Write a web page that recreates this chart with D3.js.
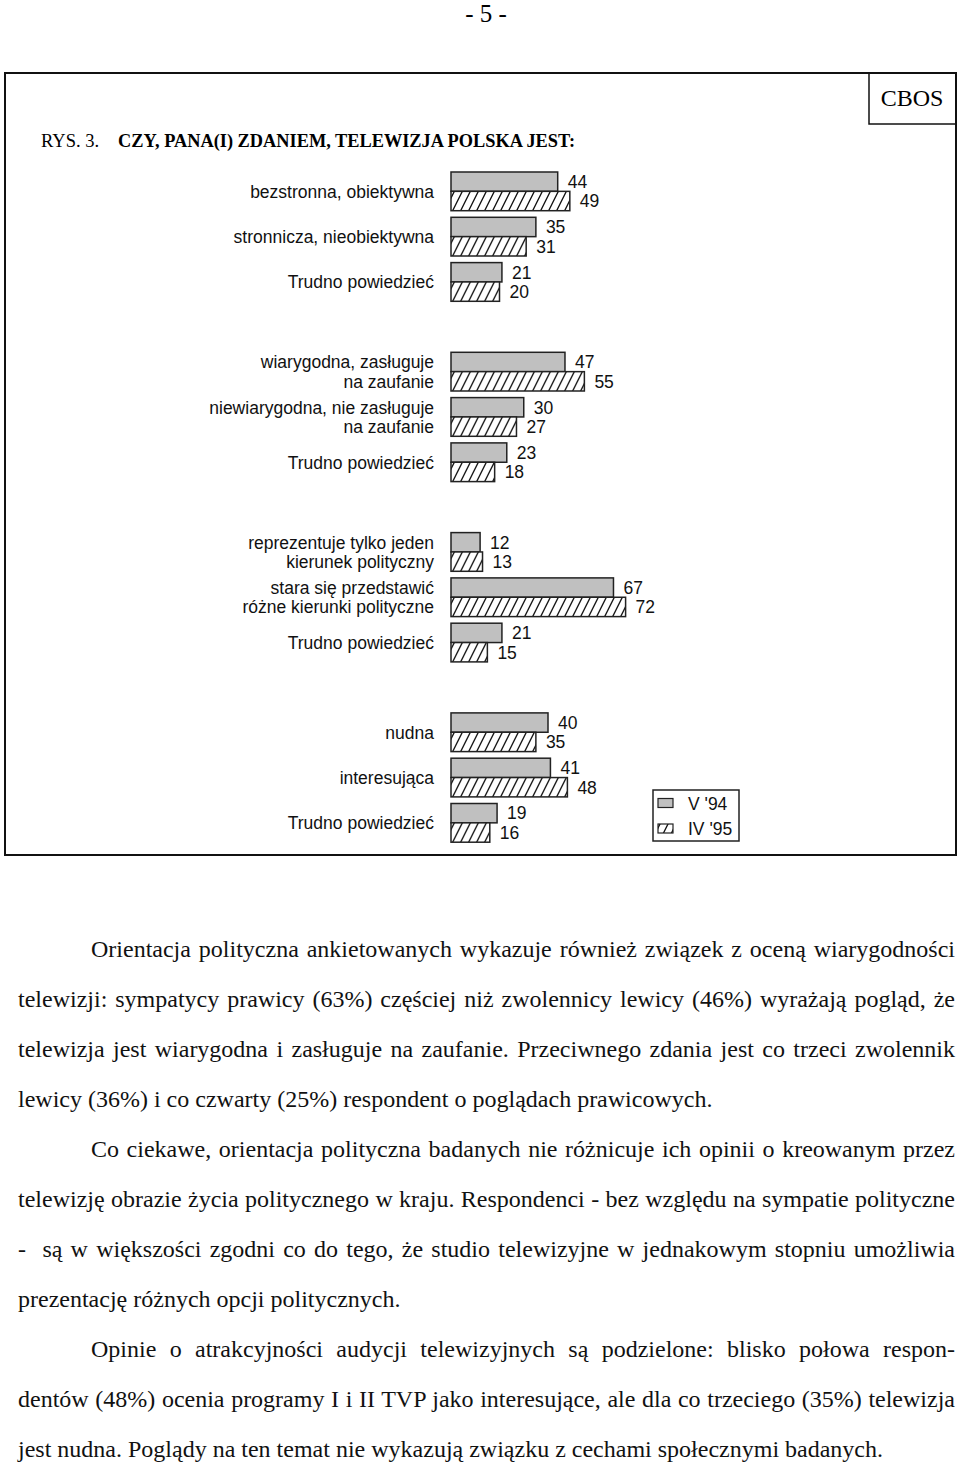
<!DOCTYPE html>
<html>
<head>
<meta charset="utf-8">
<script src="https://cdn.jsdelivr.net/npm/d3@7"></script>
<style>
  html, body { margin: 0; padding: 0; background: #fff; }
  svg { display: block; }
</style>
</head>
<body>
<div id="chart"></div>
<script>
// ---- data ----
const seriesNames = ["V '94", "IV '95"];

const panelLabels = [
  [["bezstronna, obiektywna"], ["stronnicza, nieobiektywna"], ["Trudno powiedzieć"]],
  [["wiarygodna, zasługuje", "na zaufanie"], ["niewiarygodna, nie zasługuje", "na zaufanie"], ["Trudno powiedzieć"]],
  [["reprezentuje tylko jeden", "kierunek polityczny"], ["stara się przedstawić", "różne kierunki polityczne"], ["Trudno powiedzieć"]],
  [["nudna"], ["interesująca"], ["Trudno powiedzieć"]]
];

const values94 = [[44, 35, 21], [47, 30, 23], [12, 67, 21], [40, 41, 19]];
const values95 = [[49, 31, 20], [55, 27, 18], [13, 72, 15], [35, 48, 16]];

const paragraphLines = [
  "Orientacja polityczna ankietowanych wykazuje również związek z oceną wiarygodności",
  "telewizji: sympatycy prawicy (63%) częściej niż zwolennicy lewicy (46%) wyrażają pogląd, że",
  "telewizja jest wiarygodna i zasługuje na zaufanie. Przeciwnego zdania jest co trzeci zwolennik",
  "lewicy (36%) i co czwarty (25%) respondent o poglądach prawicowych.",
  "Co ciekawe, orientacja polityczna badanych nie różnicuje ich opinii o kreowanym przez",
  "telewizję obrazie życia politycznego w kraju. Respondenci - bez względu na sympatie polityczne",
  "-  są w większości zgodni co do tego, że studio telewizyjne w jednakowym stopniu umożliwia",
  "prezentację różnych opcji politycznych.",
  "Opinie o atrakcyjności audycji telewizyjnych są podzielone: blisko połowa respon-",
  "dentów (48%) ocenia programy I i II TVP jako interesujące, ale dla co trzeciego (35%) telewizja",
  "jest nudna. Poglądy na ten temat nie wykazują związku z cechami społecznymi badanych."
];
// which lines start a paragraph (indented) / end one (not justified)
const indented = [0, 4, 8];
const lastLines = [3, 7, 10];

// ---------------------------------------------------------------
const width = 960, height = 1462;
const sans = "'Liberation Sans', Arial, sans-serif";
const serif = "'Liberation Serif', 'Times New Roman', serif";

const svg = d3.select("#chart").append("svg")
  .attr("width", width)
  .attr("height", height)
  .attr("viewBox", [0, 0, width, height])
  .style("background", "#fff");

// steep "/" hatching as in the printed figure
const defs = svg.append("defs");
defs.append("pattern")
  .attr("id", "hatch")
  .attr("patternUnits", "userSpaceOnUse")
  .attr("width", 8)
  .attr("height", 16)
  .call(p => p.append("rect").attr("width", 8).attr("height", 16).attr("fill", "#fff"))
  .append("path")
  .attr("d", "M0,16 L8,0 M-1,2 L1,-2 M7,18 L9,14")
  .attr("stroke", "#111")
  .attr("stroke-width", 1.3);

const fills = ["#c0c0c0", "url(#hatch)"];

// page number
svg.append("text")
  .attr("x", 486).attr("y", 22)
  .attr("text-anchor", "middle")
  .attr("font-family", serif)
  .attr("font-size", 25)
  .text("- 5 -");

// frame + CBOS box
svg.append("rect")
  .attr("x", 5).attr("y", 73).attr("width", 951).attr("height", 782)
  .attr("fill", "none").attr("stroke", "#111").attr("stroke-width", 2);
svg.append("rect")
  .attr("x", 869).attr("y", 73).attr("width", 87).attr("height", 51)
  .attr("fill", "none").attr("stroke", "#111").attr("stroke-width", 1.5);
svg.append("text")
  .attr("x", 912).attr("y", 106)
  .attr("text-anchor", "middle")
  .attr("font-family", serif)
  .attr("font-size", 24)
  .text("CBOS");

// title
svg.append("text")
  .attr("x", 41).attr("y", 147)
  .attr("font-family", serif)
  .attr("font-size", 18.5)
  .text("RYS. 3.");
svg.append("text")
  .attr("x", 118).attr("y", 147)
  .attr("font-family", serif)
  .attr("font-size", 18.5)
  .attr("font-weight", "bold")
  .attr("textLength", 457)
  .attr("lengthAdjust", "spacingAndGlyphs")
  .text("CZY, PANA(I) ZDANIEM, TELEWIZJA POLSKA JEST:");

// ---- bar panels ----
const x = d3.scaleLinear([0, 100], [451, 693.5]);
const panelTop = i => 172 + i * 180.3;
const sub = d3.scaleBand(seriesNames, [0, 38.7]);

panelLabels.forEach((labels, pi) => {
  const cats = labels.map(l => l.join(" "));
  const y = d3.scaleBand(cats, [panelTop(pi), panelTop(pi) + 129.3]).paddingInner(0.1457);
  const rows = cats.map((c, ci) => ({
    cat: c,
    lines: labels[ci],
    vals: [values94[pi][ci], values95[pi][ci]]
  }));

  const g = svg.append("g").attr("font-family", sans).attr("font-size", 17.5).attr("fill", "#111");

  const grp = g.selectAll("g.grp")
    .data(rows)
    .join("g")
    .attr("class", "grp")
    .attr("transform", d => `translate(0,${y(d.cat)})`);

  grp.selectAll("rect")
    .data(d => d.vals.map((v, si) => ({ v, s: seriesNames[si], si })))
    .join("rect")
    .attr("x", x(0))
    .attr("y", d => sub(d.s))
    .attr("width", d => x(d.v) - x(0))
    .attr("height", sub.bandwidth())
    .attr("fill", d => fills[d.si])
    .attr("stroke", "#222")
    .attr("stroke-width", 1.5);

  grp.selectAll("text.val")
    .data(d => d.vals.map((v, si) => ({ v, s: seriesNames[si] })))
    .join("text")
    .attr("class", "val")
    .attr("x", d => x(d.v) + 10)
    .attr("y", d => sub(d.s) + sub.bandwidth() / 2)
    .attr("dy", "0.36em")
    .text(d => d.v);

  // category labels: one line sits between the bars, two lines sit on each bar
  grp.selectAll("text.cat")
    .data(d => d.lines.map((t, li) => ({ t, li, n: d.lines.length })))
    .join("text")
    .attr("class", "cat")
    .attr("x", 434)
    .attr("text-anchor", "end")
    .attr("y", d => d.n === 1 ? sub.bandwidth() : sub(seriesNames[d.li]) + sub.bandwidth() / 2)
    .attr("dy", "0.36em")
    .text(d => d.t);
});

// legend
const leg = svg.append("g").attr("font-family", sans).attr("font-size", 17.5).attr("fill", "#111");
leg.append("rect")
  .attr("x", 653).attr("y", 790).attr("width", 86).attr("height", 51)
  .attr("fill", "#fff").attr("stroke", "#222").attr("stroke-width", 1.5);
seriesNames.forEach((s, i) => {
  leg.append("rect")
    .attr("x", 658).attr("y", 798.5 + i * 25.5).attr("width", 15).attr("height", 9)
    .attr("fill", fills[i]).attr("stroke", "#222").attr("stroke-width", 1.2);
  leg.append("text")
    .attr("x", 688).attr("y", 803.5 + i * 25)
    .attr("dy", "0.36em")
    .text(s);
});

// ---- body text, justified line by line ----
const left = 18, right = 955, indent = 73;
const body = svg.append("g").attr("font-family", serif).attr("font-size", 24).attr("fill", "#111");
paragraphLines.forEach((line, i) => {
  const x0 = left + (indented.includes(i) ? indent : 0);
  const t = body.append("text")
    .attr("x", x0)
    .attr("y", 957 + i * 50)
    .attr("xml:space", "preserve")
    .text(line);
  if (!lastLines.includes(i)) {
    const w = t.node().getComputedTextLength();
    const spaces = (line.match(/ /g) || []).length;
    t.attr("word-spacing", (right - x0 - w) / spaces);
  }
});
</script>
</body>
</html>
